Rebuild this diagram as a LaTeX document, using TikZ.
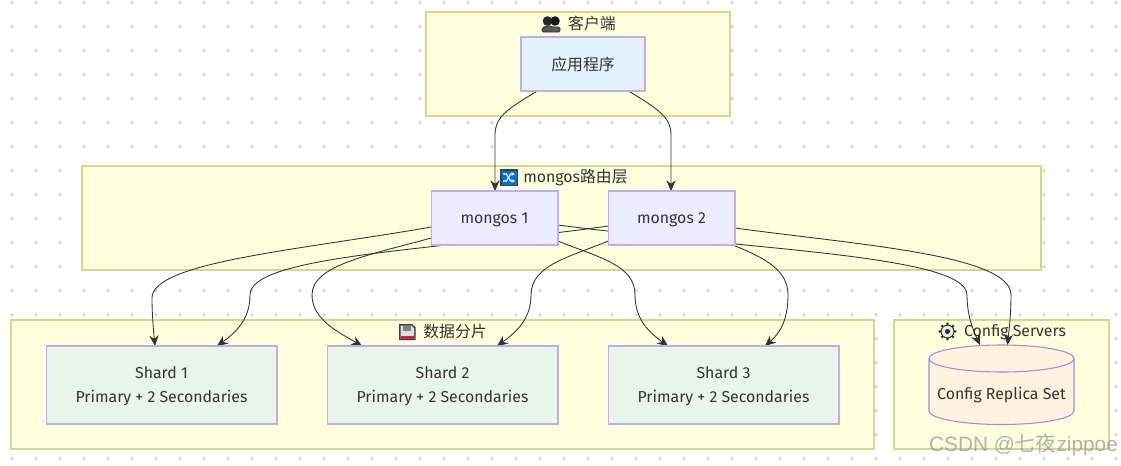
\documentclass[tikz,border=0pt]{standalone}
\usepackage{fontspec}
\setmainfont{Fira Sans}
\newfontfamily\cjk{Noto Sans CJK SC}
\newfontfamily\wm{Liberation Sans}
\usetikzlibrary{arrows.meta,calc}
\pgfdeclarelayer{bg}
\pgfdeclarelayer{edges}
\pgfsetlayers{bg,edges,main}
\definecolor{clfill}{HTML}{FFFFDE}
\definecolor{clline}{HTML}{D6D68C}
\definecolor{ndline}{HTML}{BFAEE8}
\definecolor{ink}{HTML}{333333}
\definecolor{dotc}{HTML}{D6D6D6}
\definecolor{appfill}{HTML}{E3F2FD}
\definecolor{monfill}{HTML}{ECECFF}
\definecolor{shfill}{HTML}{E8F5E9}
\definecolor{cyfill}{HTML}{FFF3E0}
\definecolor{cyline}{HTML}{A587E1}
\definecolor{shufc}{HTML}{0A6ED2}
\definecolor{flopc}{HTML}{CD1E5A}
\newcommand{\lift}{\rule{0pt}{10.4pt}}
\tikzset{
  cluster/.style={draw=clline,fill=clfill,line width=1.2pt,minimum width=#1,inner sep=0pt,outer sep=0pt},
  lbl/.style={font=\fontsize{11.9pt}{14pt}\selectfont,text=ink,inner sep=0pt,outer sep=0pt},
  box/.style={draw=ndline,line width=1pt,inner sep=0pt,outer sep=0pt,font=\fontsize{11.9pt}{18pt}\selectfont,text=ink,align=center},
  link/.style={draw=ink,line width=0.65pt,-{Stealth[length=8pt,width=7pt]}},
}
\begin{document}
\begin{tikzpicture}[x=0.75pt,y=-0.75pt]
\path[use as bounding box] (0,0) rectangle (1121,465);
% nodes
\node[box,fill=appfill,minimum width=93pt,minimum height=40.5pt] (app) at (583,64) {\cjk 应用程序};
\node[box,fill=monfill,minimum width=95pt,minimum height=40.5pt,text height=9.5pt,text depth=2pt] (m1) at (494.5,218) {mongos 1};
\node[box,fill=monfill,minimum width=95pt,minimum height=40.5pt,text height=9.5pt,text depth=2pt] (m2) at (671.5,218) {mongos 2};
\node[box,fill=shfill,minimum width=173pt,minimum height=58.5pt] (s1) at (161.5,385) {\lift Shard 1\\Primary + 2 Secondaries};
\node[box,fill=shfill,minimum width=173pt,minimum height=58.5pt] (s2) at (442.5,385) {\lift Shard 2\\Primary + 2 Secondaries};
\node[box,fill=shfill,minimum width=173pt,minimum height=58.5pt] (s3) at (723.5,385) {\lift Shard 3\\Primary + 2 Secondaries};
% cylinder
\draw[draw=cyline,line width=.8pt,fill=cyfill]
  (929,358.5) arc[x radius=72.5,y radius=13.5,start angle=180,end angle=360]
  -- (1074,411) arc[x radius=72.5,y radius=13.5,start angle=0,end angle=180] -- cycle;
\draw[draw=cyline,line width=.8pt]
  (929,358.5) arc[x radius=72.5,y radius=13.5,start angle=180,end angle=0];
\node[lbl,minimum width=108.75pt,minimum height=60pt] (cfg) at (1001.5,385) {};
\node[lbl] (cfgtxt) at (1001.5,395) {Config Replica Set};
\begin{pgfonlayer}{bg}
\fill[white] (0,0) rectangle (1121,465);
\foreach \i in {0,...,46}{\foreach \j in {0,...,19}{
  \fill[dotc] ({12+24*\i},{2.7+24*\j}) circle[radius=1.9];}}
\node[cluster=228pt,minimum height=78pt] (cl1) at (578,64) {};
\node[cluster=719.25pt,minimum height=78pt] (cl2) at (561.5,218) {};
\node[cluster=647.25pt,minimum height=96.75pt] (cl3) at (442.5,384.5) {};
\node[cluster=161.25pt,minimum height=96.75pt] (cl4) at (1001.5,384.5) {};
\node[lbl] (t1) at (592,23) {\cjk 客户端};
\node[lbl] (t2) at (575.5,178) {mongos{\cjk 路由层}};
\node[lbl] (t3) at (455,331) {\cjk 数据分片};
\node[lbl] (t4) at (1015,332) {Config Servers};
% users icon
\fill[black!85] (547.5,21) circle[radius=4.8];
\fill[black!90] (555,21) circle[radius=4.8];
\fill[black!65,rounded corners=1pt] (542,32) -- (542,28) -- (548,25.5) -- (553,27) -- (560,27) -- (560,32) -- cycle;
\draw[black!85,line width=.6pt,rounded corners=1pt] (542,32) -- (542,28) -- (548,25.5) -- (553,27) -- (560,27) -- (560,32) -- cycle;
% shuffle icon
\fill[black!75] (500,169) rectangle (518,186);
\fill[shufc] (501.5,170.5) rectangle (516.5,184.5);
\draw[white,line width=.8pt,-{Stealth[length=2.6pt,width=2.6pt]}] (503,174) -- (506.5,174) -- (510.5,181) -- (515,181);
\draw[white,line width=.8pt,-{Stealth[length=2.6pt,width=2.6pt]}] (503,181) -- (506.5,181) -- (510.5,174) -- (515,174);
% floppy icon
\fill[black!75] (399,324) -- (412,324) -- (415.5,327) -- (415.5,340) -- (399,340) -- cycle;
\fill[black!12] (400.5,325.5) -- (411.5,325.5) -- (414,328) -- (414,338.5) -- (400.5,338.5) -- cycle;
\fill[flopc] (400.5,336.3) rectangle (414,338.5);
\fill[black!50] (403,325.5) rectangle (411,330.5);
% gear icon
\foreach \a in {0,45,...,315}{\fill[black!80] (947.5,331.5) ++(\a:7.6) circle[radius=1.5];}
\fill[black!80] (947.5,331.5) circle[radius=7];
\fill[black!8] (947.5,331.5) circle[radius=5.8];
\fill[black!80] (947.5,331.5) circle[radius=2.6];
\end{pgfonlayer}
\begin{pgfonlayer}{edges}
\draw[link] ($(app.south)+(-45.5,0)$) .. controls (505,110) and (495,118) .. (495,135) -- ($(m1.north)+(0.5,0)$);
\draw[link] ($(app.south)+(45.5,0)$) .. controls (660,110) and (671,118) .. (671,135) -- ($(m2.north)+(-0.5,0)$);
\draw[link] ($(m1.west)+(0,9)$) .. controls (300,250) and (152,262) .. (152,298) .. controls (152,315) and (153.5,330) .. ($(s1.north)+(-6.5,0)$);
\draw[link] ($(m2.west)+(0,8)$) .. controls (440,250) and (250,255) .. (250,295) .. controls (250,320) and (235,333) .. ($(s1.north)+(55.5,0)$);
\draw[link] ($(m1.west)+(0,20)$) .. controls (370,255) and (312,265) .. (312,295) .. controls (312,320) and (340,333) .. ($(s2.north)+(-80.5,0)$);
\draw[link] ($(m2.west)+(0,23)$) .. controls (570,257) and (531,265) .. (531,295) .. controls (531,320) and (515,333) .. ($(s2.north)+(54.5,0)$);
\draw[link] ($(m1.east)+(0,23)$) .. controls (600,258) and (635,265) .. (635,295) .. controls (635,320) and (650,333) .. ($(s3.north)+(-55.5,0)$);
\draw[link] ($(m2.south east)+(-2,0)$) .. controls (765,258) and (788,270) .. (788,295) .. controls (788,320) and (780,333) .. ($(s3.north)+(41.5,0)$);
\draw[link] ($(m1.east)+(0,7)$) .. controls (750,250) and (967,255) .. (967,295) .. controls (967,315) and (973,330) .. ($(cfg.north)+(-21.5,0)$);
\draw[link] ($(m2.east)+(0,10)$) .. controls (860,245) and (1011,255) .. (1011,295) .. controls (1011,315) and (1009,330) .. ($(cfg.north)+(6,0)$);
\end{pgfonlayer}
\node[font=\fontsize{15.6pt}{18pt}\selectfont\wm,text=black!40,opacity=.75,inner sep=0pt] (wmark) at (1023.5,445) {CSDN @{\cjk 七夜}zippoe};
\end{tikzpicture}
\end{document}
